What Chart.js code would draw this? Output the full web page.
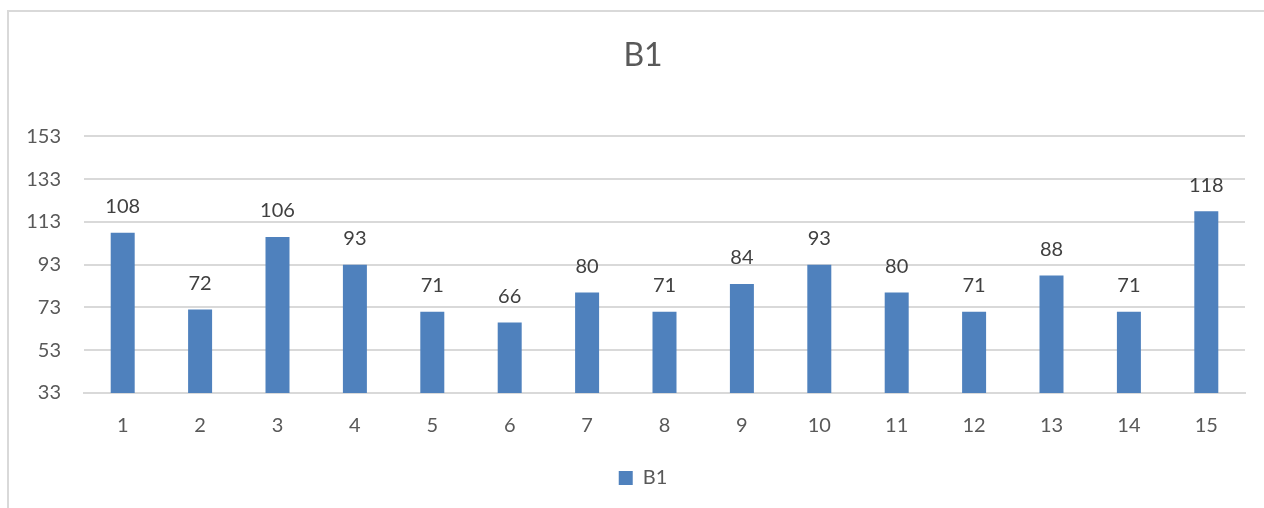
<!DOCTYPE html>
<html>
<head>
<meta charset="utf-8">
<script src="https://cdn.jsdelivr.net/npm/chart.js@4/dist/chart.umd.min.js"></script>
<style>
  html, body { margin: 0; padding: 0; background: #ffffff; overflow: hidden; }
  #frame {
    position: absolute; left: 7px; top: 10px; width: 1400px; height: 700px;
    border-left: 2px solid #d9d9d9; border-top: 2px solid #d9d9d9;
  }
  #wrap { position: absolute; left: 0; top: 0; width: 1264px; height: 508px; }
</style>
</head>
<body>
<div id="frame"></div>
<div id="wrap"><canvas id="chart" width="1264" height="508"></canvas></div>
<script>
// Categories and values of series B1
const categories = ['1', '2', '3', '4', '5', '6', '7', '8', '9', '10', '11', '12', '13', '14', '15'];
const seriesName = 'B1';
const values = [108, 72, 106, 93, 71, 66, 80, 71, 84, 93, 80, 71, 88, 71, 118];
const yTicks = [33, 53, 73, 93, 113, 133, 153];

const FONT = 'Lato, "Open Sans", sans-serif';

// Writes each bar's value above it
const valueLabels = {
  id: 'valueLabels',
  afterDatasetsDraw(chart) {
    const ctx = chart.ctx;
    ctx.save();
    ctx.font = '20px ' + FONT;
    ctx.fillStyle = '#404040';
    ctx.textAlign = 'center';
    ctx.textBaseline = 'middle';
    chart.data.datasets.forEach((ds, di) => {
      chart.getDatasetMeta(di).data.forEach((bar, i) => {
        ctx.fillText(String(ds.data[i]), bar.x, bar.y - 26);
      });
    });
    ctx.restore();
  }
};

new Chart(document.getElementById('chart'), {
  type: 'bar',
  data: {
    labels: categories,
    datasets: [{
      label: seriesName,
      data: values,
      backgroundColor: '#4f81bd',
      borderWidth: 0,
      barPercentage: 0.31,
      categoryPercentage: 1.0
    }]
  },
  options: {
    responsive: false,
    animation: false,
    layout: { padding: { left: 22, right: 0, top: 0, bottom: 10 } },
    plugins: {
      title: {
        display: true,
        text: seriesName,
        color: '#595959',
        font: { family: FONT, size: 32, weight: 'normal', lineHeight: 1.2 },
        padding: { top: 36, bottom: 62 }
      },
      legend: {
        display: true,
        position: 'bottom',
        labels: {
          color: '#595959',
          font: { family: FONT, size: 20 },
          boxWidth: 14,
          boxHeight: 14,
          padding: 10
        }
      },
      tooltip: { enabled: false }
    },
    scales: {
      x: {
        grid: { display: false, drawTicks: false },
        border: { display: true, color: '#d9d9d9', width: 2 },
        ticks: { color: '#595959', font: { family: FONT, size: 20 }, padding: 21 },
        afterFit(scale) { scale.height = 65; }
      },
      y: {
        min: 33,
        max: 153,
        afterBuildTicks(scale) { scale.ticks = yTicks.map(v => ({ value: v })); },
        grid: { color: '#d9d9d9', lineWidth: 2, drawTicks: false },
        border: { display: false },
        ticks: { color: '#595959', font: { family: FONT, size: 20 }, padding: 23 },
        afterFit(scale) { scale.width = 62; }
      },
      // empty right-hand margin strip
      yRight: {
        position: 'right',
        display: true,
        grid: { display: false, drawTicks: false },
        border: { display: false },
        ticks: { display: false },
        afterFit(scale) { scale.width = 19; }
      }
    }
  },
  plugins: [valueLabels]
});
</script>
</body>
</html>
